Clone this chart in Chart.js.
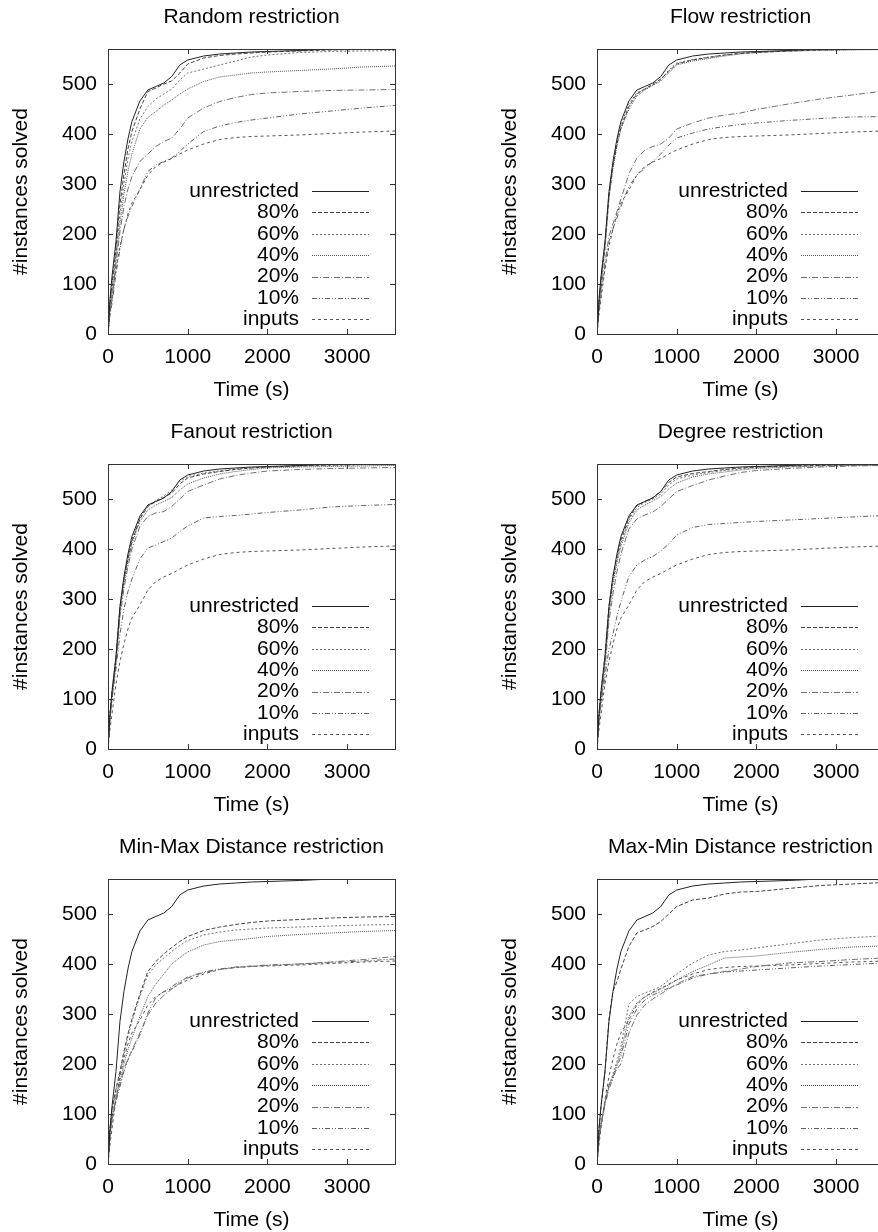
<!DOCTYPE html>
<html>
<head>
<meta charset="utf-8">
<script src="https://cdn.jsdelivr.net/npm/chart.js@4.4.1/dist/chart.umd.min.js"></script>
<style>
html, body { margin: 0; padding: 0; background: #fff; }
#page { position: relative; width: 878px; height: 1232px; overflow: hidden; }
#page canvas { position: absolute; }
</style>
</head>
<body>
<div id="page"></div>
<script>
// sample times (s), shared by every series
const times = [0, 25, 50, 100, 150, 200, 250, 300, 400, 500, 600, 700, 800, 900, 1000, 1200, 1400, 1600, 1800, 2000, 2400, 2800, 3200, 3600];
const seriesLabels = ['unrestricted', '80%', '60%', '40%', '20%', '10%', 'inputs'];
const xTicks = [0, 1000, 2000, 3000];
const yTicks = [0, 100, 200, 300, 400, 500];

// same in every panel
const unrestricted = [0, 70, 115, 185, 285, 345, 390, 425, 466, 488, 495, 502, 515, 538, 548, 556, 560, 562, 564, 565, 567, 570, 571, 572];
const inputs = [0, 40, 70, 130, 175, 210, 240, 262, 288, 318, 335, 344, 351, 360, 368, 380, 389, 393, 395, 396, 398, 401, 404, 406];

// Random restriction
const random80 = [0, 60, 100, 170, 260, 320, 370, 405, 450, 485, 492, 500, 506, 522, 540, 552, 557, 560, 562, 564, 566, 568, 569, 570];
const random60 = [0, 55, 90, 160, 240, 300, 350, 385, 430, 455, 470, 480, 490, 508, 522, 530, 538, 546, 554, 558, 563, 565, 566, 567];
const random40 = [0, 50, 80, 150, 220, 280, 325, 360, 410, 433, 445, 458, 468, 480, 490, 505, 514, 518, 522, 524, 527, 530, 534, 536];
const random20 = [0, 45, 70, 140, 205, 255, 290, 315, 345, 360, 375, 385, 392, 410, 432, 452, 465, 473, 479, 482, 485, 487, 488, 489];
const random10 = [0, 40, 60, 120, 170, 210, 235, 255, 290, 325, 338, 345, 352, 365, 380, 405, 416, 423, 428, 432, 440, 446, 452, 457];

// Flow restriction
const flow80 = [0, 60, 105, 175, 275, 335, 380, 412, 455, 480, 490, 500, 510, 525, 540, 548, 553, 558, 561, 563, 566, 568, 569, 569];
const flow60 = [0, 65, 110, 180, 280, 340, 385, 418, 460, 482, 490, 498, 508, 528, 542, 549, 554, 558, 562, 564, 566, 568, 569, 569];
const flow40 = [0, 60, 100, 170, 270, 330, 375, 410, 450, 476, 488, 497, 506, 522, 538, 546, 551, 556, 560, 563, 566, 567, 568, 569];
const flow20 = [0, 50, 90, 145, 195, 220, 245, 270, 320, 352, 368, 375, 380, 392, 410, 422, 432, 438, 442, 449, 460, 470, 478, 486];
const flow10 = [0, 45, 80, 135, 185, 210, 232, 255, 295, 318, 332, 345, 360, 378, 392, 402, 410, 415, 419, 422, 427, 431, 434, 435];

// Fanout restriction
const fanout80 = [0, 70, 110, 180, 280, 340, 380, 415, 460, 485, 495, 503, 512, 530, 542, 550, 555, 559, 562, 564, 566, 568, 569, 569];
const fanout60 = [0, 70, 115, 185, 285, 340, 385, 420, 462, 487, 497, 506, 518, 535, 545, 552, 556, 560, 562, 564, 566, 567, 568, 568];
const fanout40 = [0, 65, 105, 175, 275, 330, 375, 410, 455, 478, 488, 495, 503, 518, 530, 542, 550, 555, 559, 562, 564, 565, 566, 567];
const fanout20 = [0, 60, 100, 170, 265, 320, 365, 400, 445, 465, 472, 475, 485, 500, 515, 528, 540, 547, 552, 556, 559, 561, 562, 563];
const fanout10 = [0, 60, 100, 160, 230, 280, 315, 340, 380, 402, 408, 415, 422, 435, 446, 462, 465, 467, 470, 473, 478, 484, 487, 489];

// Degree restriction
const degree80 = [0, 70, 115, 185, 285, 345, 385, 418, 462, 487, 495, 503, 515, 533, 544, 551, 555, 559, 562, 564, 566, 567, 568, 569];
const degree60 = [0, 65, 105, 175, 275, 335, 378, 412, 458, 483, 493, 500, 510, 528, 540, 548, 553, 557, 560, 563, 565, 567, 568, 568];
const degree40 = [0, 65, 100, 170, 270, 330, 372, 405, 452, 478, 488, 496, 505, 520, 532, 544, 550, 554, 558, 561, 564, 566, 567, 568];
const degree20 = [0, 60, 95, 160, 255, 310, 355, 390, 440, 460, 468, 474, 485, 500, 515, 527, 538, 546, 553, 557, 561, 564, 566, 567];
const degree10 = [0, 55, 90, 145, 200, 230, 265, 295, 345, 368, 378, 385, 396, 410, 428, 443, 449, 451, 453, 455, 458, 461, 464, 467];

// Min-Max Distance restriction
const minmax80 = [0, 70, 110, 150, 185, 225, 260, 290, 340, 385, 405, 420, 433, 445, 455, 467, 474, 479, 483, 486, 489, 492, 494, 495];
const minmax60 = [0, 65, 105, 145, 180, 220, 255, 285, 335, 378, 398, 412, 425, 437, 447, 458, 464, 468, 470, 472, 474, 476, 478, 479];
const minmax40 = [0, 60, 95, 135, 165, 200, 228, 252, 295, 335, 360, 380, 400, 413, 424, 438, 445, 448, 451, 455, 459, 462, 465, 467];
const minmax20 = [0, 55, 90, 130, 160, 190, 210, 228, 262, 298, 322, 337, 350, 362, 372, 383, 389, 393, 395, 397, 400, 404, 409, 415];
const minmax10 = [0, 55, 85, 125, 155, 185, 208, 225, 258, 302, 333, 345, 355, 365, 374, 384, 390, 394, 396, 398, 400, 403, 406, 410];

// Max-Min Distance restriction
const maxmin80 = [0, 70, 115, 185, 290, 345, 365, 390, 435, 462, 468, 475, 485, 500, 515, 528, 532, 540, 544, 545, 551, 557, 560, 563];
const maxmin60 = [0, 50, 80, 125, 155, 180, 205, 235, 320, 335, 342, 348, 355, 368, 380, 402, 418, 425, 428, 432, 440, 448, 453, 456];
const maxmin40 = [0, 50, 80, 125, 155, 175, 200, 225, 295, 322, 334, 342, 350, 358, 368, 385, 398, 412, 414, 416, 423, 429, 434, 436];
const maxmin20 = [0, 50, 80, 120, 160, 175, 190, 200, 262, 298, 318, 330, 340, 350, 360, 375, 380, 385, 390, 395, 402, 405, 409, 412];
const maxmin10 = [0, 50, 78, 118, 150, 170, 195, 215, 280, 310, 328, 338, 345, 352, 358, 372, 380, 384, 386, 388, 392, 396, 399, 402];

const panelTitles = ['Random restriction', 'Flow restriction', 'Fanout restriction', 'Degree restriction',
                     'Min-Max Distance restriction', 'Max-Min Distance restriction'];
const panelSeries = [
    [unrestricted, random80, random60, random40, random20, random10, inputs],
    [unrestricted, flow80, flow60, flow40, flow20, flow10, inputs],
    [unrestricted, fanout80, fanout60, fanout40, fanout20, fanout10, inputs],
    [unrestricted, degree80, degree60, degree40, degree20, degree10, inputs],
    [unrestricted, minmax80, minmax60, minmax40, minmax20, minmax10, inputs],
    [unrestricted, maxmin80, maxmin60, maxmin40, maxmin20, maxmin10, inputs]
];

const lineColors = ['#222222', '#444444', '#707070', '#555555', '#707070', '#606060', '#555555'];
const lineDashes = [[], [4, 2], [2, 2], [1, 1], [6, 2, 1, 2], [5, 2, 1, 2, 1, 2], [3, 3]];

const FONT = 'Liberation Sans, Arial, Helvetica, sans-serif';
const FS = 21;

// gnuplot-like frame, inward ticks, title and key
const gnuplotFrame = {
    id: 'gnuplotFrame',
    afterDraw(chart, args, opts) {
        const ctx = chart.ctx;
        const a = chart.chartArea;
        const xs = chart.scales.x, ys = chart.scales.y;
        ctx.save();
        ctx.strokeStyle = '#333';
        ctx.lineWidth = 1;
        ctx.setLineDash([]);
        ctx.strokeRect(Math.round(a.left) + 0.5, Math.round(a.top) + 0.5,
                       Math.round(a.right - a.left), Math.round(a.bottom - a.top));
        ctx.beginPath();
        ys.ticks.forEach(t => {
            const py = Math.round(ys.getPixelForValue(t.value)) + 0.5;
            ctx.moveTo(a.left, py); ctx.lineTo(a.left + 5, py);
            ctx.moveTo(a.right, py); ctx.lineTo(a.right - 5, py);
        });
        xs.ticks.forEach(t => {
            const px = Math.round(xs.getPixelForValue(t.value)) + 0.5;
            ctx.moveTo(px, a.bottom); ctx.lineTo(px, a.bottom - 5);
            ctx.moveTo(px, a.top); ctx.lineTo(px, a.top + 5);
        });
        ctx.stroke();

        ctx.fillStyle = '#000';
        ctx.font = FS + 'px ' + FONT;
        ctx.textAlign = 'center';
        ctx.textBaseline = 'middle';
        ctx.fillText(opts.text, (a.left + a.right) / 2, 17);

        // key
        ctx.textAlign = 'right';
        chart.data.datasets.forEach((ds, i) => {
            const y = 191 + i * 21.4;
            ctx.fillStyle = '#000';
            ctx.fillText(ds.label, a.left + 191, y);
            ctx.strokeStyle = ds.borderColor;
            ctx.setLineDash(ds.borderDash);
            ctx.beginPath();
            ctx.moveTo(a.left + 204, Math.round(y) + 0.5);
            ctx.lineTo(a.left + 261, Math.round(y) + 0.5);
            ctx.stroke();
        });
        ctx.restore();
    }
};

const page = document.getElementById('page');
panelTitles.forEach((title, p) => {
    const canvas = document.createElement('canvas');
    canvas.width = 440;
    canvas.height = 415;
    canvas.style.left = (p % 2 === 0 ? 0 : 489) + 'px';
    canvas.style.top = (Math.floor(p / 2) * 415) + 'px';
    page.appendChild(canvas);

    new Chart(canvas.getContext('2d'), {
        type: 'line',
        data: {
            datasets: panelSeries[p].map((vals, i) => ({
                label: seriesLabels[i],
                data: times.map((t, k) => ({ x: t, y: vals[k] })),
                borderColor: lineColors[i],
                borderDash: lineDashes[i],
                borderWidth: 1,
                pointRadius: 0,
                fill: false,
                tension: 0
            }))
        },
        options: {
            responsive: false,
            animation: false,
            devicePixelRatio: 1,
            layout: { padding: { top: 49, right: 45, bottom: 0, left: 0 } },
            scales: {
                x: {
                    type: 'linear',
                    min: 0,
                    max: 3600,
                    afterFit: scale => { scale.height = 81; },
                    afterBuildTicks: scale => { scale.ticks = xTicks.map(v => ({ value: v })); },
                    grid: { display: false, drawTicks: false },
                    border: { display: false },
                    ticks: { padding: 11, color: '#000', font: { family: FONT, size: FS }, maxRotation: 0,
                             callback: v => String(v) },
                    title: { display: true, text: 'Time (s)', color: '#000', font: { family: FONT, size: FS },
                             padding: { top: 0, bottom: 12 } }
                },
                y: {
                    min: 0,
                    max: 570,
                    afterFit: scale => { scale.width = 108; },
                    afterBuildTicks: scale => { scale.ticks = yTicks.map(v => ({ value: v })); },
                    grid: { display: false, drawTicks: false },
                    border: { display: false },
                    ticks: { padding: 11, color: '#000', font: { family: FONT, size: FS },
                             callback: v => String(v) },
                    title: { display: true, text: '#instances solved', color: '#000', font: { family: FONT, size: FS },
                             padding: { top: 9, bottom: 0 } }
                }
            },
            plugins: {
                legend: { display: false },
                tooltip: { enabled: false },
                gnuplotFrame: { text: title }
            }
        },
        plugins: [gnuplotFrame]
    });
});
</script>
</body>
</html>
